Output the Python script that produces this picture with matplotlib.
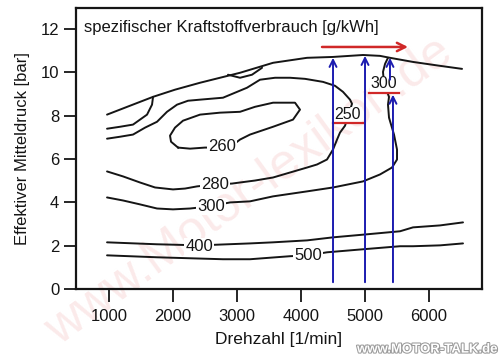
import numpy as np
import matplotlib.pyplot as plt
import matplotlib.patheffects as pe

plt.rcParams['font.family'] = ['Liberation Sans', 'DejaVu Sans']

# contour lines of the engine map (speed [1/min], bmep [bar])
full_x = [969, 1328, 1688, 2031, 2422, 2734, 3047, 3563, 4094, 4500, 4969, 5234, 5390, 5750, 6172, 6516]
full_y = [8.05, 8.46, 8.87, 9.20, 9.52, 9.75, 9.98, 10.44, 10.67, 10.71, 10.80, 10.76, 10.67, 10.48, 10.30, 10.16]

branch_x = [969, 1172, 1375, 1594, 1672, 1688]
branch_y = [7.40, 7.49, 7.59, 8.05, 8.51, 8.87]

sliver_x = [2859, 3047, 3234, 3391]
sliver_y = [9.89, 9.75, 9.89, 10.21]

c280_x = [969, 1172, 1375, 1563, 1750, 1906, 2063, 2234, 2422, 2781, 3156, 3359, 3594, 3828, 4063,
          4344, 4531, 4656, 4766, 4797, 4688, 4609, 4563, 4500, 4406, 4250, 4094, 3828, 3563, 3281,
          3047, 2922, 2656, 2375, 2188, 2000, 1719, 1484, 1219, 969]
c280_y = [6.94, 7.03, 7.13, 7.45, 7.72, 8.18, 8.51, 8.69, 8.74, 8.83, 9.29, 9.66, 9.75, 9.75, 9.70,
          9.56, 9.38, 9.10, 8.74, 8.55, 7.54, 7.22, 6.90, 6.44, 5.98, 5.75, 5.61, 5.38, 5.15, 5.01,
          4.92, 4.87, 4.83, 4.74, 4.64, 4.60, 4.69, 4.92, 5.20, 5.43]

c260_x = [2078, 1969, 1953, 2031, 2156, 2422, 2734, 3047, 3281, 3563, 3906, 3984, 3875, 3563, 3203,
          3047, 2922, 2766, 2500, 2266, 2078]
c260_y = [6.53, 6.80, 7.08, 7.45, 7.77, 8.05, 8.14, 8.18, 8.41, 8.60, 8.60, 8.28, 7.82, 7.49, 7.13,
          6.90, 6.62, 6.53, 6.53, 6.48, 6.53]

c300_x = [969, 1219, 1484, 1750, 2000, 2266, 2578, 2891, 3203, 3563, 4094, 4500, 4969, 5234, 5422,
          5500, 5500, 5453, 5375, 5359, 5375, 5297, 5281, 5313, 5359]
c300_y = [4.23, 4.09, 3.91, 3.72, 3.68, 3.72, 3.82, 4.00, 4.05, 4.28, 4.51, 4.69, 4.97, 5.29, 5.61,
          5.98, 6.44, 7.13, 7.91, 8.51, 8.87, 9.47, 10.02, 10.39, 10.67]

c400_x = [969, 1750, 2422, 3203, 3563, 4094, 4500, 5031, 5547, 5750, 6172, 6531]
c400_y = [2.16, 2.07, 2.02, 2.11, 2.16, 2.25, 2.39, 2.53, 2.67, 2.85, 2.94, 3.08]

c500_x = [969, 1750, 2781, 3203, 3828, 4109, 4406, 4969, 5547, 5750, 6172, 6531]
c500_y = [1.56, 1.47, 1.38, 1.38, 1.52, 1.56, 1.70, 1.84, 1.98, 1.98, 2.02, 2.11]

# contour labels: text, x, y
labels = [('260', 2766, 6.57), ('280', 2656, 4.83), ('300', 2594, 3.82),
          ('400', 2406, 1.98), ('500', 4109, 1.56)]
red_labels = [('250', 4734, 8.05), ('300', 5297, 9.47)]

# annotation arrows (blue up arrows, red arrow along full load)
blue_x = [4500, 5000, 5437]
blue_y0 = [0.32, 0.32, 0.32]
blue_y1 = [10.67, 10.76, 8.97]
small_arrow = (5390, 9.66, 10.67)
red_arrow = (4328, 5672, 11.17)

xticks = [1000, 2000, 3000, 4000, 5000, 6000]
yticks = [0, 2, 4, 6, 8, 10, 12]

fig = plt.figure(figsize=(5, 3.61), dpi=100)
ax = fig.add_axes([0.152, 0.199, 0.812, 0.779])

# faint scan watermark, behind everything
fig.text(0.5, 0.47, 'www.Motor-lexikon.de', fontsize=36, color='#fbeaea', rotation=36,
         ha='center', va='center', zorder=-1)

black = '#151515'
for xs, ys in [(full_x, full_y), (branch_x, branch_y), (sliver_x, sliver_y), (c280_x, c280_y),
               (c260_x, c260_y), (c300_x, c300_y), (c400_x, c400_y), (c500_x, c500_y)]:
    ax.plot(xs, ys, color=black, lw=1.4, solid_capstyle='round', zorder=2)

for txt, x, y in labels:
    ax.text(x, y, txt, ha='center', va='center', fontsize=12, color=black,
            bbox=dict(facecolor='white', edgecolor='none', pad=0.8), zorder=3)

for txt, x, y in red_labels:
    ax.text(x, y, txt, ha='center', va='center', fontsize=11.5, color=black,
            bbox=dict(facecolor='white', edgecolor='none', pad=0.3), zorder=3)
    ax.plot([x - 230, x + 230], [y - 0.4, y - 0.4], color='#d02828', lw=1.6, zorder=4)

blue = '#1c1cb0'
for x, y0, y1 in zip(blue_x, blue_y0, blue_y1):
    ax.annotate('', xy=(x, y1), xytext=(x, y0),
                arrowprops=dict(arrowstyle='->,head_length=0.5,head_width=0.25', color=blue, lw=1.4,
                                shrinkA=0, shrinkB=0), zorder=5)
ax.annotate('', xy=(small_arrow[0], small_arrow[2]), xytext=(small_arrow[0], small_arrow[1]),
            arrowprops=dict(arrowstyle='->,head_length=0.5,head_width=0.25', color=blue, lw=1.4,
                            shrinkA=0, shrinkB=0), zorder=5)
ax.annotate('', xy=(red_arrow[1], red_arrow[2]), xytext=(red_arrow[0], red_arrow[2]),
            arrowprops=dict(arrowstyle='->,head_length=0.6,head_width=0.3', color='#d02828', lw=1.8,
                            shrinkA=0, shrinkB=0), zorder=5)

ax.text(609, 12.09, 'spezifischer Kraftstoffverbrauch [g/kWh]', ha='left', va='center',
        fontsize=12, color=black)

ax.set_xlim(484, 6828)
ax.set_ylim(0, 12.97)
ax.set_xticks(xticks)
ax.set_yticks(yticks)
ax.tick_params(direction='out', length=9, width=1.3, labelsize=12, colors=black, pad=3)
ax.tick_params(axis='x', pad=5)
for s in ax.spines.values():
    s.set_linewidth(1.6)
    s.set_color(black)
ax.patch.set_alpha(0)
ax.set_xlabel('Drehzahl [1/min]', fontsize=12.5, color=black, labelpad=6)
ax.set_ylabel('Effektiver Mitteldruck [bar]', fontsize=12, color=black, labelpad=8)

fig.text(0.995, 0.015, 'www.MOTOR-TALK.de', fontsize=9.5, fontweight='bold', color='white',
         ha='right', va='bottom',
         path_effects=[pe.withStroke(linewidth=1.5, foreground='#9a9a9a')])

plt.savefig('out.png', dpi=100)
